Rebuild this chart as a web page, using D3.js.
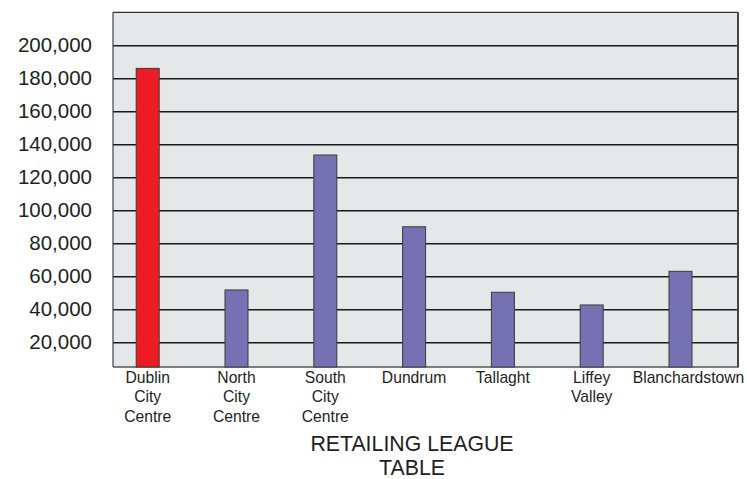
<!DOCTYPE html>
<html>
<head>
<meta charset="utf-8">
<script src="https://cdn.jsdelivr.net/npm/d3@7"></script>
<style>
html,body{margin:0;padding:0;background:#fff;overflow:hidden;}
svg{display:block;font-family:"Liberation Sans",Arial,Helvetica,sans-serif;}
</style>
</head>
<body>
<svg id="chart" width="747" height="479"></svg>
<script>
const categories = ["Dublin City Centre","North City Centre","South City Centre","Dundrum","Tallaght","Liffey Valley","Blanchardstown"];
const categoryLines = [["Dublin","City","Centre"],["North","City","Centre"],["South","City","Centre"],["Dundrum"],["Tallaght"],["Liffey","Valley"],["Blanchardstown"]];
const values = [186000, 51700, 133500, 90000, 50300, 42600, 63000];
const highlight = [true, false, false, false, false, false, false];
const yTicks = [20000,40000,60000,80000,100000,120000,140000,160000,180000,200000];
const titleLines = ["RETAILING LEAGUE","TABLE"];

const svg = d3.select("#chart");
const plot = {left:113, right:738, top:12.3, bottom:367};

const y = d3.scaleLinear().domain([5000, 220000]).range([plot.bottom, plot.top]);
const x = d3.scalePoint().domain(categories).range([147.7, 680.5]);
const barW = 23;

// background
svg.append("rect").attr("x",plot.left).attr("y",plot.top)
  .attr("width",plot.right-plot.left).attr("height",plot.bottom-plot.top)
  .attr("fill","#e6e7e8");

// gridlines
const grid = svg.append("g").attr("transform",`translate(${plot.left},0)`)
  .call(d3.axisLeft(y).tickValues(yTicks).tickSize(-(plot.right-plot.left)).tickFormat(""));
grid.select(".domain").remove();
grid.selectAll("line").attr("stroke","#1a1a1a").attr("stroke-width",1.4);

// borders
svg.append("line").attr("x1",plot.left).attr("x2",plot.right).attr("y1",plot.top).attr("y2",plot.top).attr("stroke","#333").attr("stroke-width",1.2);
svg.append("line").attr("x1",plot.left).attr("x2",plot.left).attr("y1",plot.top).attr("y2",plot.bottom).attr("stroke","#444").attr("stroke-width",1.2);
svg.append("line").attr("x1",plot.right).attr("x2",plot.right).attr("y1",plot.top).attr("y2",plot.bottom+0.5).attr("stroke","#444").attr("stroke-width",2);
svg.append("line").attr("x1",plot.left).attr("x2",plot.right).attr("y1",plot.bottom).attr("y2",plot.bottom).attr("stroke","#555").attr("stroke-width",1.4);

// bars
svg.append("g").selectAll("rect").data(categories).join("rect")
  .attr("x", d => x(d) - barW/2)
  .attr("y", (d,i) => y(values[i]))
  .attr("width", barW)
  .attr("height", (d,i) => y(5000) - y(values[i]))
  .attr("fill", (d,i) => highlight[i] ? "#ed1c24" : "#7571b3")
  .attr("stroke", "#3a3a3a")
  .attr("stroke-width", 1);

// y tick labels
const yAxis = svg.append("g").attr("transform","translate(92,0)")
  .call(d3.axisLeft(y).tickValues(yTicks).tickSize(0).tickPadding(0).tickFormat(d3.format(",")));
yAxis.select(".domain").remove();
yAxis.selectAll("text").attr("font-size","20.5px").attr("fill","#231f20")
  .attr("font-family","'Liberation Sans',Arial,sans-serif");

// category labels
const labels = svg.append("g").selectAll("text").data(categories).join("text")
  .attr("y", 382.5)
  .attr("text-anchor","middle")
  .attr("font-size","15.7px")
  .attr("fill","#231f20");
labels.each(function(d,i){
  const t = d3.select(this);
  categoryLines[i].forEach((ln,j) => {
    t.append("tspan").attr("x", x(d) + (i===6 ? 8 : 0)).attr("dy", j===0 ? 0 : 19.5).text(ln);
  });
});

// title
svg.append("text").attr("text-anchor","middle").attr("font-size","21.3px").attr("fill","#231f20")
  .selectAll("tspan").data(titleLines).join("tspan")
  .attr("x", 412).attr("y", (d,i) => 450.7 + i*24).text(d => d);
</script>
</body>
</html>
